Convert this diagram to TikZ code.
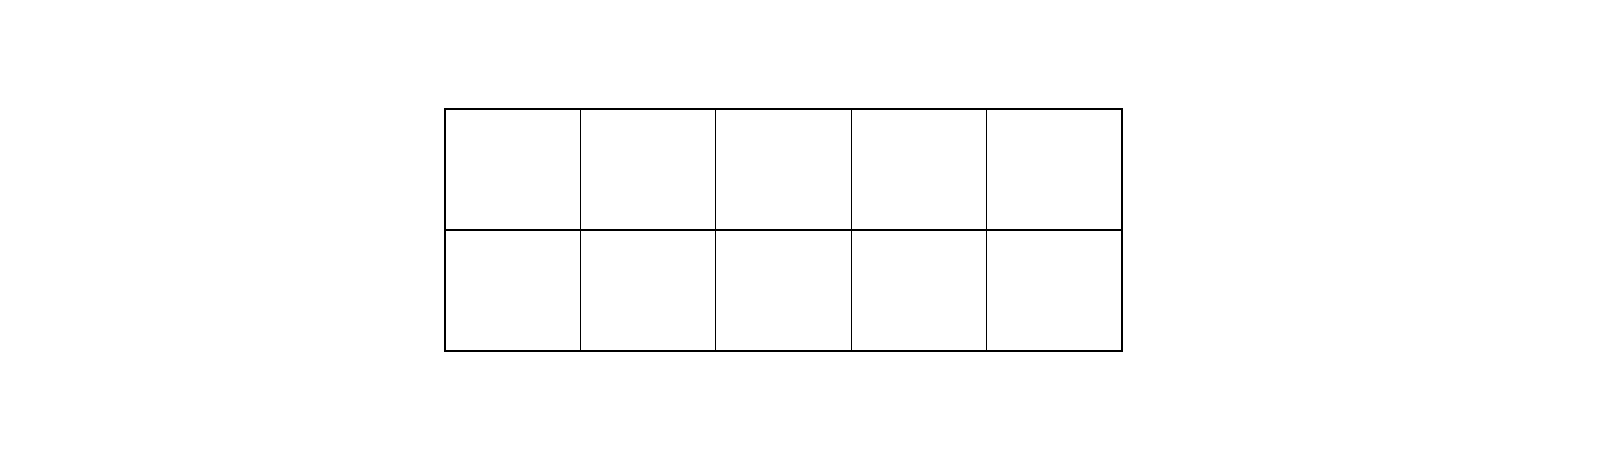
\documentclass[tikz,border=0pt]{standalone}
\begin{document}
\begin{tikzpicture}[x=1cm,y=1cm,
  cellbox/.style={draw=black, line width=0.35pt, inner sep=0pt, outer sep=0pt,
    minimum width=1.354cm, minimum height=1.21cm, anchor=north west}]
\useasboundingbox (0,0) rectangle (16,4.7);
\foreach \r in {1,2}{
  \foreach \c in {1,...,5}{
    \node[cellbox] (c\r\c) at ({4.45+(\c-1)*1.354},{3.61-(\r-1)*1.21}) {};
  }
}
\end{tikzpicture}
\end{document}
